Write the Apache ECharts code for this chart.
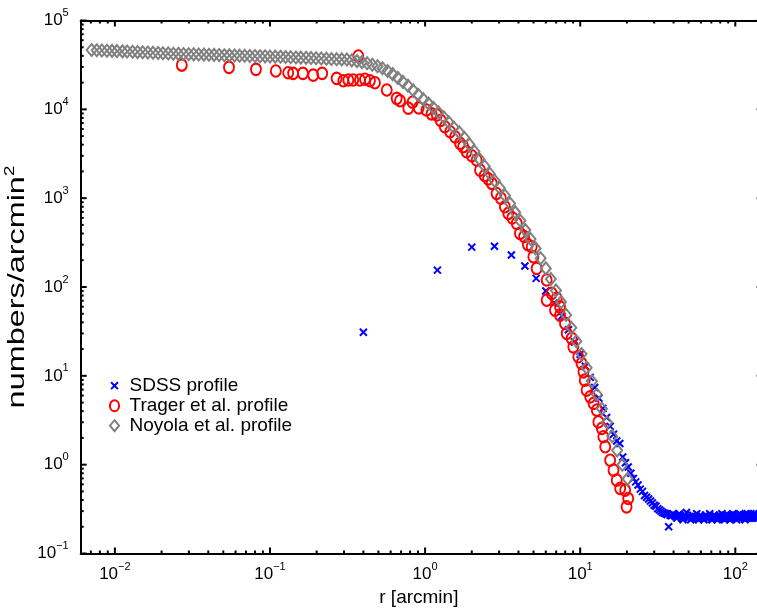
<!DOCTYPE html>
<html><head><meta charset="utf-8">
<script src="https://cdn.jsdelivr.net/npm/echarts@6/dist/echarts.min.js"></script>
<style>html,body{margin:0;padding:0;background:#fff}#c{width:757px;height:608px}#err{position:absolute;left:300px;top:30px;color:#c00;font:11px monospace;white-space:pre}</style>
</head><body><div id="c"></div><div id="err"></div>
<script>
// ---- data ----
const xMajorTicks = [0.01, 0.1, 1, 10, 100];
const xMinorTicks = [0.007,0.008,0.009,0.02,0.03,0.04,0.05,0.06,0.07,0.08,0.09,0.2,0.3,0.4,0.5,0.6,0.7,0.8,0.9,2,3,4,5,6,7,8,9,20,30,40,50,60,70,80,90];
const yMajorTicks = [0.1, 1, 10, 100, 1000, 10000, 100000];
const yMinorTicks = [0.2,0.3,0.4,0.5,0.6,0.7,0.8,0.9,2,3,4,5,6,7,8,9,20,30,40,50,60,70,80,90,200,300,400,500,600,700,800,900,2000,3000,4000,5000,6000,7000,8000,9000,20000,30000,40000,50000,60000,70000,80000,90000];

const sdssR = [0.4,1.2,2,2.8,3.6,4.4,5.2,6,6.8,7.6,
  8.4,9.2,10,10.8,11.6,12.4,13.2,14,14.8,15.6,
  16.4,17.2,18,18.8,19.6,20.4,21.2,22,22.8,23.6,
  24.4,25.2,26,26.8,27.6,28.4,29.2,30,30.8,31.6,
  32.4,33.2,34,34.8,35.6,36.4,37.2,38,38.8,39.6,
  40.4,41.2,42,42.8,43.6,44.4,45.2,46,46.8,47.6,
  48.4,49.2,50,50.8,51.6,52.4,53.2,54,54.8,55.6,
  56.4,57.2,58,58.8,59.6,60.4,61.2,62,62.8,63.6,
  64.4,65.2,66,66.8,67.6,68.4,69.2,70,70.8,71.6,
  72.4,73.2,74,74.8,75.6,76.4,77.2,78,78.8,79.6,
  80.4,81.2,82,82.8,83.6,84.4,85.2,86,86.8,87.6,
  88.4,89.2,90,90.8,91.6,92.4,93.2,94,94.8,95.6,
  96.4,97.2,98,98.8,99.6,100.4,101.2,102,102.8,103.6,
  104.4,105.2,106,106.8,107.6,108.4,109.2,110,110.8,111.6,
  112.4,113.2,114,114.8,115.6,116.4,117.2,118,118.8,119.6,
  120.4,121.2,122,122.8,123.6,124.4,125.2,126,126.8,127.6,
  128.4,129.2,130,130.8,131.6,132.4,133.2,134,134.8,135.6,
  136.4,137.2,138,138.8,139.6];
const sdssN = [31,155,281,288,229,172,125,90,66,47,
  33,24,17.5,12.8,9.6,7.4,5.6,4.3,3.4,2.7,
  2.2,1.85,1.73,1.22,1.05,0.94,0.80,0.70,0.64,0.59,
  0.53,0.50,0.45,0.43,0.41,0.39,0.37,0.35,0.34,0.32,
  0.31,0.30,0.29,0.285,0.28,0.275,0.20,0.27,0.265,0.28,
  0.27,0.26,0.25,0.27,0.28,0.26,0.25,0.24,0.26,0.27,
  0.29,0.26,0.25,0.26,0.24,0.25,0.27,0.26,0.25,0.26,
  0.28,0.25,0.24,0.26,0.27,0.25,0.26,0.25,0.24,0.26,
  0.27,0.26,0.25,0.25,0.26,0.28,0.26,0.25,0.24,0.26,
  0.25,0.27,0.26,0.25,0.26,0.24,0.25,0.26,0.27,0.26,
  0.25,0.26,0.28,0.26,0.25,0.26,0.24,0.25,0.27,0.26,
  0.26,0.25,0.27,0.26,0.25,0.24,0.26,0.27,0.25,0.26,
  0.28,0.26,0.25,0.26,0.27,0.25,0.26,0.24,0.26,0.27,
  0.26,0.25,0.26,0.28,0.26,0.25,0.27,0.26,0.25,0.26,
  0.27,0.26,0.25,0.26,0.24,0.26,0.27,0.25,0.26,0.28,
  0.26,0.25,0.27,0.26,0.25,0.26,0.27,0.28,0.26,0.25,
  0.26,0.27,0.25,0.26,0.28,0.27,0.26,0.25,0.27,0.26,
  0.26,0.27,0.25,0.26,0.27];

const tragerR = [0.0270,0.0544,0.0812,0.109,0.131,0.141,0.163,0.190,0.217,0.269,
  0.297,0.320,0.344,0.371,0.380,0.410,0.441,0.475,0.566,0.656,
  0.689,0.779,0.83,0.91,1.02,1.10,1.19,1.26,1.34,1.45,
  1.56,1.68,1.76,1.85,2.0,2.15,2.26,2.42,2.55,2.69,
  2.89,3.08,3.27,3.44,3.65,3.90,4.09,4.35,4.6,4.87,
  4.99,5.24,6.08,6.08,6.55,6.88,7.06,7.41,7.41,7.98,
  8.19,8.81,9.03,9.72,10.2,10.5,10.7,11.0,11.6,12.2,
  12.8,13.1,13.8,14.1,14.5,15.6,16.4,17.2,18.1,19.5,
  20.4,19.9];
const tragerN = [31500,29700,28200,27000,25800,25400,25400,24300,25400,22300,
  21000,21400,21400,39800,21400,21800,21000,19900,16500,13300,
  12500,10300,12000,10400,9820,8900,8630,7500,6370,5590,
  4900,4140,3800,3330,3000,2690,2070,1800,1650,1470,
  1130,1000,800,674,600,520,401,370,300,284,
  219,162,120,71.2,84.7,54.9,74.4,59.8,48.3,38.9,
  30.0,26.4,21.2,16.4,13.8,11.1,8.94,6.90,5.80,4.89,
  4.11,3.03,2.56,2.06,1.59,1.12,0.867,0.669,0.540,0.516,
  0.416,0.335];

const noyolaR = [0.00708,0.00764,0.00824,0.00889,0.00959,0.0103,0.0112,0.0120,0.0130,0.0140,
  0.0151,0.0163,0.0176,0.0190,0.0204,0.0221,0.0238,0.0257,0.0277,0.0299,
  0.0322,0.0347,0.0375,0.0404,0.0436,0.0470,0.0508,0.0547,0.0591,0.0637,
  0.0687,0.0741,0.0800,0.0863,0.0930,0.100,0.108,0.117,0.126,0.136,
  0.147,0.158,0.171,0.184,0.198,0.214,0.231,0.249,0.269,0.290,
  0.313,0.337,0.364,0.392,0.423,0.457,0.493,0.531,0.573,0.618,
  0.667,0.719,0.776,0.837,0.903,0.974,1.05,1.13,1.22,1.32,
  1.42,1.53,1.66,1.79,1.93,2.08,2.24,2.42,2.61,2.81,
  3.03,3.27,3.53,3.81,4.11,4.43,4.78,5.16,5.56,6.00,
  6.47,6.98,7.53,8.12,8.76,9.45,10.2,11.0,11.9,12.8,
  13.8,14.9,16.1,17.3,18.7,20.2];
const noyolaN = [46600,46300,46000,45700,45500,45200,44900,44700,44400,44100,
  43900,43600,43300,43100,42800,42600,42300,42100,41900,41700,
  41600,41400,41300,41100,41000,40800,40700,40500,40400,40200,
  40100,39900,39800,39600,39500,39300,39200,39100,38800,38600,
  38400,38200,38000,37800,37600,37400,37200,36900,36700,36500,
  36400,35600,34900,34000,33000,31800,30500,29000,27000,24900,
  22600,20400,18400,16400,14600,13000,11600,10400,9230,8130,
  7160,6240,5500,4790,4030,3350,2750,2290,1880,1570,
  1300,1070,871,692,556,437,347,272,211,162,
  123,91.2,67.6,48.4,34.7,24.5,17.6,12.3,8.71,6.17,
  4.27,2.99,2.09,1.45,1.00,0.692];

const seriesNames = ['SDSS profile', 'Trager et al. profile', 'Noyola et al. profile'];
const xName = 'r [arcmin]';
const yName = 'numbers/arcmin';
const xRange = [0.00602, 138];
const xFrameMax = 150;   // right frame of the original axes box, just outside the picture
const yRange = [0.1, 100000];

// ---- chart ----
const FONT = "'Liberation Sans', Arial, Helvetica, sans-serif";
const zip = (a, b) => a.map((v, i) => [v, b[i]]);
function powLabel(v) {
  const e = Math.round(Math.log10(v));
  return '{b|10}{s|' + (e < 0 ? '\u2212' + (-e) : e) + '}';
}
const rich = {
  b: {fontSize: 17, lineHeight: 26, fontFamily: FONT, color: '#000'},
  s: {fontSize: 11, lineHeight: 11, verticalAlign: 'top', fontFamily: FONT, color: '#000'}
};
const crossPath = 'path://M0,0L10,10M10,0L0,10';
const crossLegend = 'path://M-3,-3M13,13M0,0L10,10M10,0L0,10';
const circleLegend = 'path://M0,6A5,6,0,1,1,10,6A5,6,0,1,1,0,6Z';
const diamondLegend = 'path://M5,0L10,6L5,12L0,6Z';

const chart = echarts.init(document.getElementById('c'), null, {renderer: 'canvas'});
try {
chart.setOption({
  animation: false,
  backgroundColor: '#fff',
  grid: {left: 80.7, top: 20.5, right: 0, bottom: 54.5, containLabel: false, outerBoundsMode: 'none'},
  xAxis: [
    {type: 'log', logBase: 10, min: xRange[0], max: xRange[1], position: 'bottom',
     axisLine: {lineStyle: {color: '#000', width: 2}}, axisTick: {show: false},
     axisLabel: {show: true, customValues: xMajorTicks, formatter: powLabel, rich: rich, margin: 8},
     splitLine: {show: false},
     name: xName, nameLocation: 'middle', nameGap: 33,
     nameTextStyle: {fontSize: 19, fontFamily: FONT, color: '#000'}},
    {type: 'log', logBase: 10, min: xRange[0], max: xRange[1], position: 'top',
     axisLine: {lineStyle: {color: '#000', width: 2}}, axisTick: {show: false},
     axisLabel: {show: false}, splitLine: {show: false}}
  ],
  yAxis: [
    {type: 'log', logBase: 10, min: yRange[0], max: yRange[1], position: 'left',
     axisLine: {lineStyle: {color: '#000', width: 2}}, axisTick: {show: false},
     axisLabel: {show: true, customValues: yMajorTicks, formatter: powLabel, rich: rich, margin: 12},
     splitLine: {show: false}}
  ],
  legend: {
    orient: 'vertical', left: 103, top: 370.7, itemGap: 0,
    itemWidth: 20, itemHeight: 11,
    textStyle: {fontSize: 19, lineHeight: 20, fontFamily: FONT, color: '#000'},
    data: [
      {name: seriesNames[0], icon: crossLegend, itemStyle: {color: 'rgba(0,0,0,0)', borderColor: '#0000ff', borderWidth: 2}},
      {name: seriesNames[1], icon: circleLegend, itemStyle: {color: 'rgba(0,0,0,0)', borderColor: '#ff0000', borderWidth: 2}},
      {name: seriesNames[2], icon: diamondLegend, itemStyle: {color: 'rgba(0,0,0,0)', borderColor: '#808080', borderWidth: 2}}
    ]
  },
  series: [
    {name: seriesNames[0], type: 'scatter', xAxisIndex: 0, yAxisIndex: 0,
     symbol: crossPath, symbolSize: 7,
     itemStyle: {color: 'rgba(0,0,0,0)', borderColor: '#0000ff', borderWidth: 2, opacity: 1},
     data: zip(sdssR, sdssN)},
    {name: seriesNames[1], type: 'scatter', xAxisIndex: 0, yAxisIndex: 0,
     symbol: 'circle', symbolSize: [10, 11.5],
     itemStyle: {color: 'rgba(0,0,0,0)', borderColor: '#ff0000', borderWidth: 2, opacity: 1},
     data: zip(tragerR, tragerN)},
    {name: seriesNames[2], type: 'scatter', xAxisIndex: 0, yAxisIndex: 0,
     symbol: 'diamond', symbolSize: [10, 12],
     itemStyle: {color: 'rgba(0,0,0,0)', borderColor: '#808080', borderWidth: 2, opacity: 1},
     data: zip(noyolaR, noyolaN)}
  ]
});

// tick marks and the y title, positioned through the axes' own log scales
const px = (x, y) => chart.convertToPixel({seriesIndex: 0}, [x, y]);
const tickStyle = {stroke: '#000', lineWidth: 2};
const g = [];
function addTick(p, dx, dy) {
  g.push({type: 'line', silent: true, z: 100,
    shape: {x1: p[0], y1: p[1], x2: p[0] + dx, y2: p[1] + dy}, style: tickStyle});
}
xMajorTicks.forEach(v => { addTick(px(v, yRange[0]), 0, -6); addTick(px(v, yRange[1]), 0, 6); });
xMinorTicks.forEach(v => { addTick(px(v, yRange[0]), 0, -3); addTick(px(v, yRange[1]), 0, 3); });
yMajorTicks.forEach(v => { addTick(px(xRange[0], v), 6, 0); addTick(px(xFrameMax, v), -6, 0); });
yMinorTicks.forEach(v => { addTick(px(xRange[0], v), 3, 0); addTick(px(xFrameMax, v), -3, 0); });
const yTop = px(xRange[0], yRange[1]), yBot = px(xRange[0], yRange[0]);
g.push({type: 'text', silent: true, z: 100,
  x: 17, y: (yTop[1] + yBot[1]) / 2, rotation: Math.PI / 2, scaleX: 1.35, scaleY: 1,
  style: {text: '{a|' + yName + '}{s|2}', align: 'center', verticalAlign: 'middle',
    rich: {a: {fontSize: 24, lineHeight: 28, fontFamily: FONT, fill: '#000'},
           s: {fontSize: 14, lineHeight: 14, verticalAlign: 'top', fontFamily: FONT, fill: '#000'}}}});
chart.setOption({graphic: {elements: g}});
} catch (e) { document.getElementById('err').textContent = String(e && e.stack || e); }
</script></body></html>
